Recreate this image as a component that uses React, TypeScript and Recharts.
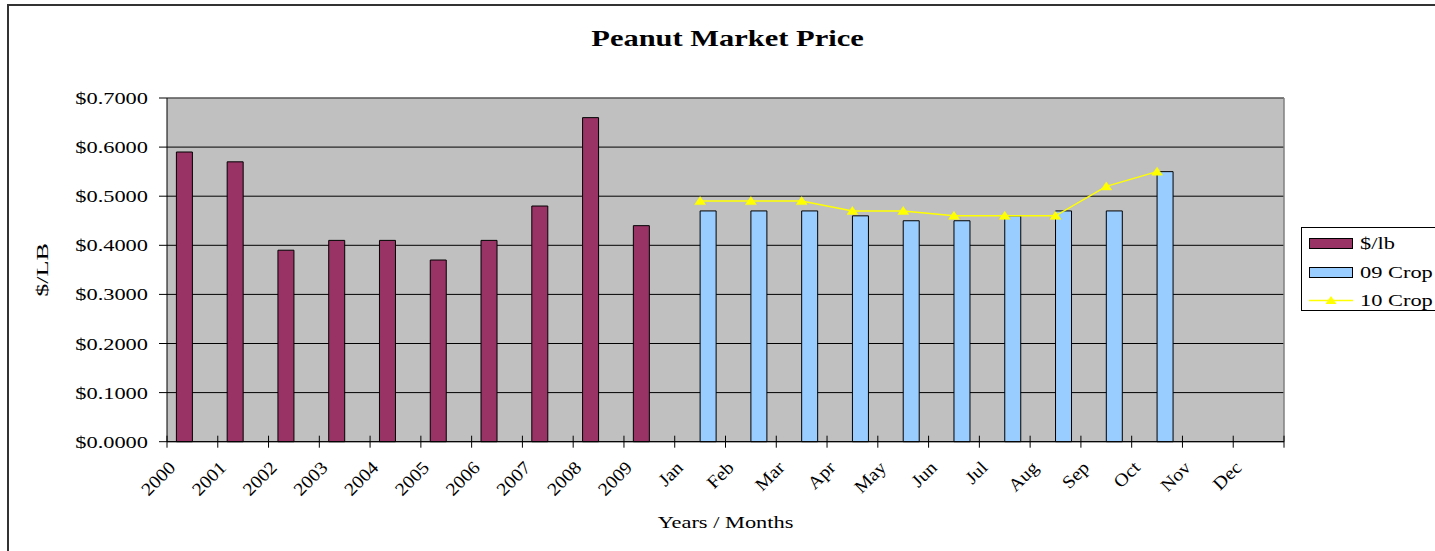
import React from 'react';
import { BarChart, Bar, Line, XAxis, YAxis, CartesianGrid, Legend, ReferenceLine, Label } from 'recharts';

const CATEGORIES = ['2000', '2001', '2002', '2003', '2004', '2005', '2006', '2007', '2008', '2009',
  'Jan', 'Feb', 'Mar', 'Apr', 'May', 'Jun', 'Jul', 'Aug', 'Sep', 'Oct', 'Nov', 'Dec'];
const PRICE_PER_LB = [0.59, 0.57, 0.39, 0.41, 0.41, 0.37, 0.41, 0.48, 0.66, 0.44,
  null, null, null, null, null, null, null, null, null, null, null, null];
const CROP_09 = [null, null, null, null, null, null, null, null, null, null,
  0.47, 0.47, 0.47, 0.46, 0.45, 0.45, 0.46, 0.47, 0.47, 0.55, null, null];
const CROP_10 = [null, null, null, null, null, null, null, null, null, null,
  0.49, 0.49, 0.49, 0.47, 0.47, 0.46, 0.46, 0.46, 0.52, 0.55, null, null];
const Y_TICKS = [0, 0.1, 0.2, 0.3, 0.4, 0.5, 0.6, 0.7];
const SERIES_NAMES = ['$/lb', '09 Crop', '10 Crop'];
const TITLE = 'Peanut Market Price';
const X_TITLE = 'Years / Months';
const Y_TITLE = '$/LB';

const data = CATEGORIES.map((c, i) => ({
  cat: c,
  price: PRICE_PER_LB[i],
  crop09: CROP_09[i],
  crop10: CROP_10[i],
}));

const FONT = '"Liberation Serif", "Times New Roman", serif';
const MAROON = '#993366';
const BLUE = '#99CCFF';
const YELLOW = '#FFFF00';
const SX = 1.28;

const YTick = (props: any) => {
  const { x, y, payload } = props;
  return (
    <text
      transform={`translate(${x},${y}) scale(${SX},1)`}
      textAnchor="end"
      dominantBaseline="central"
      fontFamily={FONT}
      fontSize={17.5}
      fill="#000"
    >
      {`$${Number(payload.value).toFixed(4)}`}
    </text>
  );
};

const XTick = (props: any) => {
  const { x, y, payload, index } = props;
  const half = payload && typeof payload.offset === 'number' && payload.offset > 0 ? payload.offset : 25.4;
  const left = x - half;
  const right = x + half;
  return (
    <g>
      <line x1={left} x2={left} y1={y - 6} y2={y + 6} stroke="#000" strokeWidth={1} />
      {index === CATEGORIES.length - 1 && (
        <line x1={right} x2={right} y1={y - 6} y2={y + 6} stroke="#000" strokeWidth={1} />
      )}
      <text
        transform={`translate(${x - 16},${y + 27}) rotate(-45) scale(1.1,1)`}
        textAnchor="end"
        fontFamily={FONT}
        fontSize={18}
        fill="#000"
      >
        {payload.value}
      </text>
    </g>
  );
};

const Triangle = (props: any) => {
  const { cx, cy } = props;
  if (cx == null || cy == null) return <g />;
  return (
    <polygon
      points={`${cx},${cy - 4.5} ${cx - 5.5},${cy + 3.5} ${cx + 5.5},${cy + 3.5}`}
      fill={YELLOW}
      stroke={YELLOW}
      strokeWidth={0.5}
    />
  );
};

const LegendContent = () => {
  const rowStyle: React.CSSProperties = { position: 'absolute', left: 0, height: 20, width: 200 };
  const textStyle: React.CSSProperties = {
    position: 'absolute', left: 58, top: 0, lineHeight: '20px', fontFamily: FONT, fontSize: 17.5,
    transform: `scaleX(${SX})`, transformOrigin: 'left center', whiteSpace: 'nowrap', color: '#000',
  };
  return (
    <div style={{ position: 'relative', width: 150, height: 84, border: '1px solid #000', boxSizing: 'border-box', background: '#fff' }}>
      <div style={{ ...rowStyle, top: 5 }}>
        <div style={{ position: 'absolute', left: 7, top: 5, width: 42, height: 9, background: MAROON, border: '1px solid #000' }} />
        <span style={textStyle}>{SERIES_NAMES[0]}</span>
      </div>
      <div style={{ ...rowStyle, top: 34 }}>
        <div style={{ position: 'absolute', left: 7, top: 5, width: 42, height: 9, background: BLUE, border: '1px solid #000' }} />
        <span style={textStyle}>{SERIES_NAMES[1]}</span>
      </div>
      <div style={{ ...rowStyle, top: 62 }}>
        <svg style={{ position: 'absolute', left: 7, top: 0 }} width={46} height={20}>
          <line x1={0} x2={44} y1={10.5} y2={10.5} stroke={YELLOW} strokeWidth={1.5} />
          <polygon points="22,6 16.5,14 27.5,14" fill={YELLOW} />
        </svg>
        <span style={textStyle}>{SERIES_NAMES[2]}</span>
      </div>
    </div>
  );
};

export default function App() {
  return (
    <div style={{ position: 'absolute', left: 0, top: 0, width: 1435, height: 551, overflow: 'hidden', background: '#fff' }}>
      <div style={{ position: 'absolute', left: 6.5, top: 4, width: 1500, height: 600, border: '2px solid #333' }} />
      <div style={{ position: 'absolute', left: 0, top: 0 }}>
        <BarChart
          width={1435}
          height={551}
          data={data}
          margin={{ top: 98, right: 151, left: 0, bottom: 0 }}
          barGap={0}
          barCategoryGap="18.5%"
        >
          <CartesianGrid horizontal vertical={false} stroke="#000" fill="#C0C0C0" fillOpacity={1} />
          <XAxis
            dataKey="cat"
            height={109.3}
            interval={0}
            tickLine={false}
            tickSize={0}
            tickMargin={0}
            axisLine={{ stroke: '#000' }}
            tick={<XTick />}
          >
            <Label
              content={(p: any) => {
                const vb = p.viewBox || { x: 167, y: 441.7, width: 1117, height: 109.3 };
                return (
                  <text
                    transform={`translate(${vb.x + vb.width / 2},${vb.y + 86.6}) scale(${SX},1)`}
                    textAnchor="middle"
                    fontFamily={FONT}
                    fontSize={17.5}
                    fill="#000"
                  >
                    {X_TITLE}
                  </text>
                );
              }}
            />
          </XAxis>
          <YAxis
            width={167}
            domain={[0, 0.7]}
            ticks={Y_TICKS}
            interval={0}
            tickSize={8}
            tickMargin={11}
            tickLine={{ stroke: '#000' }}
            axisLine={{ stroke: '#000' }}
            tick={<YTick />}
          >
            <Label
              content={(p: any) => {
                const vb = p.viewBox || { x: 0, y: 98, width: 167, height: 343.7 };
                return (
                  <text
                    transform={`translate(48.3,${vb.y + vb.height / 2}) rotate(-90) scale(1.5,1)`}
                    textAnchor="middle"
                    fontFamily={FONT}
                    fontSize={17.5}
                    fill="#000"
                  >
                    {Y_TITLE}
                  </text>
                );
              }}
            />
          </YAxis>
          <ReferenceLine y={0.7} stroke="#808080" strokeWidth={1} />
          <ReferenceLine x="Dec" position="end" stroke="#808080" strokeWidth={1.5} />
          <Bar dataKey="price" name={SERIES_NAMES[0]} fill={MAROON} stroke="#000" strokeWidth={1} isAnimationActive={false} />
          <Bar dataKey="crop09" name={SERIES_NAMES[1]} fill={BLUE} stroke="#000" strokeWidth={1} isAnimationActive={false} />
          <Line
            dataKey="crop10"
            name={SERIES_NAMES[2]}
            stroke={YELLOW}
            strokeWidth={1.5}
            dot={<Triangle />}
            activeDot={false}
            isAnimationActive={false}
          />
          <Legend
            layout="horizontal"
            verticalAlign="middle"
            align="center"
            content={<LegendContent />}
            wrapperStyle={{ position: 'absolute', left: 1301, top: 227, width: 150, height: 84 }}
          />
        </BarChart>
      </div>
      <svg style={{ position: 'absolute', left: 0, top: 0, pointerEvents: 'none' }} width={1435} height={551}>
        <text
          transform={`translate(727.5,46) scale(1.27,1)`}
          textAnchor="middle"
          fontFamily={FONT}
          fontSize={24}
          fontWeight="bold"
          fill="#000"
        >
          {TITLE}
        </text>
      </svg>
    </div>
  );
}
